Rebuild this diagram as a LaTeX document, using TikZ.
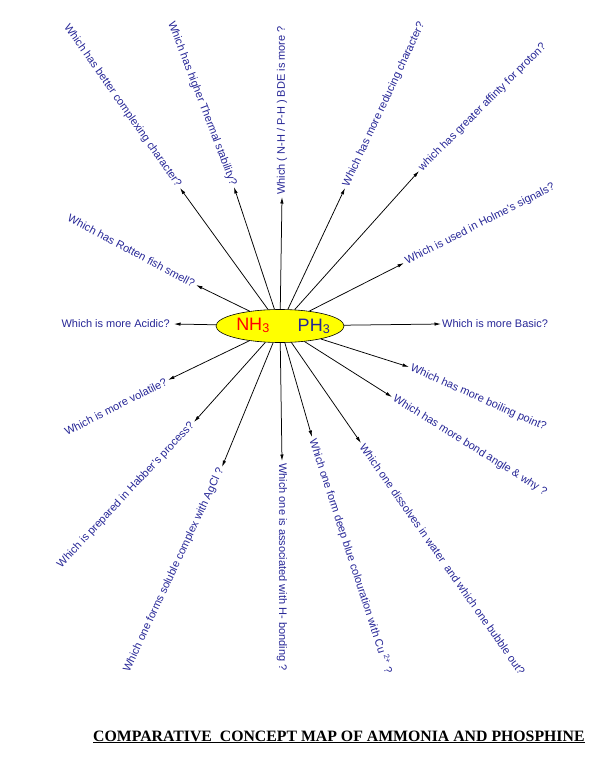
\documentclass[tikz,border=0pt]{standalone}
\usepackage{fontspec}
\setmainfont{Liberation Sans}
\newfontfamily\titlefont{Liberation Serif}
\usetikzlibrary{arrows.meta,shapes.geometric}
\definecolor{qblue}{RGB}{38,38,150}
\definecolor{hyellow}{RGB}{255,255,0}
\begin{document}
\begin{tikzpicture}[x=1pt,y=-1pt,
  q/.style={text=qblue,font=\fontsize{11}{13}\selectfont,inner sep=2pt},
  ql/.style={q,anchor=east},
  qr/.style={q,anchor=west},
  link/.style={draw=black,line width=0.75pt,-{Latex[length=6.5pt,width=3.4pt]}}]
\useasboundingbox (0,0) rectangle (610,759);
% centre
\node[draw=black,fill=hyellow,ellipse,minimum width=128pt,minimum height=33pt,inner sep=0pt,line width=0.6pt] (c) at (280,326) {};
\node[text=red,font=\fontsize{18}{20}\selectfont,anchor=base,inner sep=0pt] (nh) at (253,330) {NH\textsubscript{3}};
\node[text=qblue,font=\fontsize{18}{20}\selectfont,anchor=base,inner sep=0pt] (ph) at (314,331) {PH\textsubscript{3}};
% tips
\coordinate (t1) at (180,188);
\coordinate (t2) at (234,187);
\coordinate (t3) at (196,285);
\coordinate (t4) at (174,324);
\coordinate (t5) at (168,380);
\coordinate (t6) at (194,422);
\coordinate (t7) at (222,467);
\coordinate (t8) at (282,197);
\coordinate (t9) at (345,188);
\coordinate (t10) at (419,171);
\coordinate (t11) at (404,263);
\coordinate (t12) at (441,324);
\coordinate (t13) at (409,367);
\coordinate (t14) at (392,397);
\coordinate (t15) at (361,443);
\coordinate (t16) at (312,437);
\coordinate (t17) at (282,461);
% labels
\node[ql,rotate=-55] (l1) at (t1) {Which has better complexing character?};
\node[ql,rotate=-69] (l2) at (t2) {Which has higher Thermal stability?};
\node[ql,rotate=-28] (l3) at (t3) {Which has Rotten fish smell?};
\node[ql,inner sep=4pt] (l4) at (t4) {Which is more Acidic?};
\node[ql,rotate=27] (l5) at (t5) {Which is more volatile?};
\node[ql,rotate=47] (l6) at (t6) {Which is prepared in Habber's process?};
\node[ql,rotate=65] (l7) at (t7) {Which one forms soluble complex with AgCl ?};
\node[qr,rotate=90] (l8) at (t8) {Which ( N-H / P-H ) BDE is more ?};
\node[qr,rotate=65] (l9) at (t9) {Which has more reducing character?};
\node[qr,rotate=45] (l10) at (t10) {which has greater affinty for proton?};
\node[qr,rotate=27] (l11) at (t11) {Which is used in Holme's signals?};
\node[qr,inner sep=1pt] (l12) at (t12) {Which is more Basic?};
\node[qr,rotate=-24] (l13) at (t13) {Which has more boiling point?};
\node[qr,rotate=-32] (l14) at (t14) {Which has more bond angle \& why ?};
\node[qr,rotate=-55] (l15) at (t15) {Which one dissolves in water\ \ and which one bubble out?};
\node[qr,rotate=-72] (l16) at (t16) {Which one form deep blue colouration with Cu \textsuperscript{2+} ?};
\node[qr,rotate=-90] (l17) at (t17) {Which one is associated with H- bonding ?};
% connectors
\foreach \i in {1,...,17} { \draw[link] (c) -- (t\i); }
% title
\node[anchor=base west,inner sep=0pt,font=\titlefont\bfseries\fontsize{15.8}{18}\selectfont] (title) at (93,741) {\underline{COMPARATIVE\ \ CONCEPT MAP OF AMMONIA AND PHOSPHINE}};
\end{tikzpicture}
\end{document}
